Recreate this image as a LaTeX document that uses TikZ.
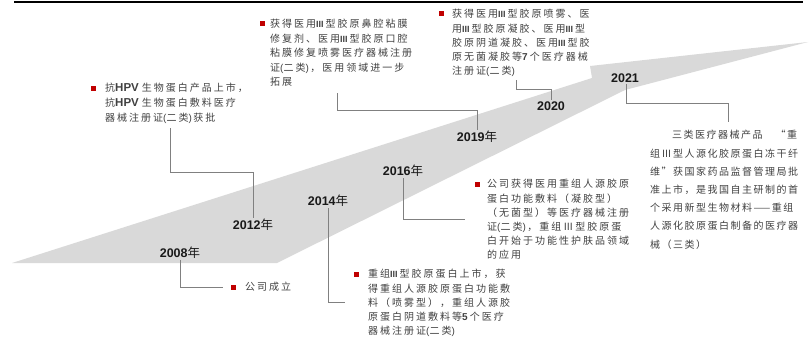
\documentclass[tikz,border=0pt]{standalone}
\usepackage{fontspec}
\newfontfamily\cjk[LetterSpace=20]{Noto Sans CJK SC}
\newfontfamily\cjkf[LetterSpace=15]{Noto Sans CJK SC}
\newfontfamily\cjkyr{Noto Sans CJK SC}
\newfontfamily\lat{Liberation Sans}
\definecolor{bandgray}{HTML}{D9D9D9}
\definecolor{leadgray}{HTML}{808080}
\definecolor{txtgray}{HTML}{404040}
\definecolor{bulred}{HTML}{C00000}
\newcommand\yr[1]{{\lat\bfseries #1}{\cjkyr 年}}
\newcommand\hpv{{\lat\bfseries\fontsize{11.5}{12}\selectfont HPV}\kern3pt}
\newcommand\iii{{\lat\bfseries\fontsize{9}{12}\selectfont III}\kern2pt}
\newcommand\dg[1]{{\lat\bfseries #1}\kern2pt}
\newcommand\lp{{\lat(}}
\newcommand\rp{{\lat)}\kern1.5pt}
\tikzset{
  txt/.style={font=\cjk\fontsize{10}{12}\selectfont, text=txtgray, inner sep=0pt, anchor=base west},
  txtf/.style={font=\cjkf\fontsize{10}{12}\selectfont, text=txtgray, inner sep=0pt, anchor=base west},
  yrlab/.style={font=\fontsize{12.5}{13}\selectfont, text=black!90, inner sep=1.5pt},
  bul/.style={rectangle, fill=bulred, minimum size=5pt, inner sep=0pt},
  lead/.style={draw=leadgray, line width=0.8pt},
}
\begin{document}
\begin{tikzpicture}[x=1pt,y=-1pt]
\useasboundingbox (0,0) rectangle (810,337);
% top rule
\draw[line width=2.5pt, black] (14,2) -- (803,2);
% growth arrow
\fill[bandgray] (12,263) -- (277,263) -- (625,90) -- (808,42) -- (590,66) -- (592,78) -- cycle;

% year labels
\node[yrlab] (y08) at (180,253) {\yr{2008}};
\node[yrlab] (y12) at (253,225) {\yr{2012}};
\node[yrlab] (y14) at (328,201) {\yr{2014}};
\node[yrlab] (y16) at (403,171) {\yr{2016}};
\node[yrlab] (y19) at (477,137) {\yr{2019}};
\node[yrlab] (y20) at (551,106) {\lat\bfseries 2020};
\node[yrlab] (y21) at (625,78) {\lat\bfseries 2021};

% block 2008
\node[bul] (bG) at (233,287) {};
\node[txt] (g1) at (245,290.8) {公司成立};

% block 2012
\node[bul] (bA) at (93,88) {};
\node[txt] (a1) at (105,91.8) {抗\hpv 生物蛋白产品上市，};
\node[txt] (a2) at (105,106.8) {抗\hpv 生物蛋白敷料医疗};
\node[txt] (a3) at (105,121.8) {器械注册证\lp 二类\rp 获批};

% block 2019
\node[bul] (bB) at (262,24) {};
\node[txt] (b1) at (270,27.8) {获得医用\iii 型胶原鼻腔粘膜};
\node[txt] (b2) at (270,42.3) {修复剂、医用\iii 型胶原口腔};
\node[txt] (b3) at (270,56.8) {粘膜修复喷雾医疗器械注册};
\node[txt] (b4) at (270,71.3) {证\lp 二类\rp ，医用领域进一步};
\node[txt] (b5) at (270,85.8) {拓展};

% block 2020
\node[bul] (bC) at (441,14) {};
\node[txt] (c1) at (452,17.8) {获得医用\iii 型胶原喷雾、医};
\node[txt] (c2) at (452,32.05) {用\iii 型胶原凝胶、医用\iii 型};
\node[txt] (c3) at (452,46.3) {胶原阴道凝胶、医用\iii 型胶};
\node[txt] (c4) at (452,60.55) {原无菌凝胶等\dg{7}个医疗器械};
\node[txt] (c5) at (452,74.8) {注册证\lp 二类\rp};

% block 2016
\node[bul] (bD) at (477,184) {};
\node[txt] (d1) at (487,187.8) {公司获得医用重组人源胶原};
\node[txt] (d2) at (487,202.0) {蛋白功能敷料（凝胶型）};
\node[txt] (d3) at (487,216.2) {（无菌型）等医疗器械注册};
\node[txt] (d4) at (487,230.4) {证\lp 二类\rp ，重组Ⅲ型胶原蛋};
\node[txt] (d5) at (487,244.6) {白开始于功能性护肤品领域};
\node[txt] (d6) at (487,258.8) {的应用};

% block 2014
\node[bul] (bE) at (356,274) {};
\node[txt] (e1) at (368,277.8) {重组\iii 型胶原蛋白上市，获};
\node[txt] (e2) at (368,292.0) {得重组人源胶原蛋白功能敷};
\node[txt] (e3) at (368,306.2) {料（喷雾型），重组人源胶};
\node[txt] (e4) at (368,320.4) {原蛋白阴道敷料等\dg{5}个医疗};
\node[txt] (e5) at (368,334.6) {器械注册证\lp 二类\rp};

% block 2021
\node[txtf] (f1) at (672,138.8) {三类医疗器械产品　“重};
\node[txtf] (f2) at (650,157.0) {组Ⅲ型人源化胶原蛋白冻干纤};
\node[txtf] (f3) at (650,175.2) {维”获国家药品监督管理局批};
\node[txtf] (f4) at (650,193.4) {准上市，是我国自主研制的首};
\node[txtf] (f5) at (650,211.6) {个采用新型生物材料——重组};
\node[txtf] (f6) at (650,229.8) {人源化胶原蛋白制备的医疗器};
\node[txtf] (f7) at (650,248.0) {械（三类）};

% leader corners and free ends
\coordinate (k08) at (180,287);
\coordinate (e08) at (223,287);
\coordinate (k12) at (253,172);
\coordinate (e12) at (170,128);
\coordinate (k14) at (328,302);
\coordinate (e14) at (345,302);
\coordinate (k16) at (403,219);
\coordinate (e16) at (465,219);
\coordinate (k19) at (477,110);
\coordinate (e19) at (337,93);
\coordinate (k20) at (551,89);
\coordinate (e20) at (516,80);
\coordinate (k21) at (626,103);
\coordinate (e21) at (728,122);

\draw[lead] (y08.south) -- (k08) -- (e08);
\draw[lead] (y12.north) -- (k12) -| (e12);
\draw[lead] (y14.south) -- (k14) -- (e14);
\draw[lead] (y16.south) -- (k16) -- (e16);
\draw[lead] (y19.north) -- (k19) -| (e19);
\draw[lead] (y20.north) -- (k20) -| (e20);
\draw[lead] (y21.south -| k21) -- (k21) -| (e21);
\end{tikzpicture}
\end{document}
